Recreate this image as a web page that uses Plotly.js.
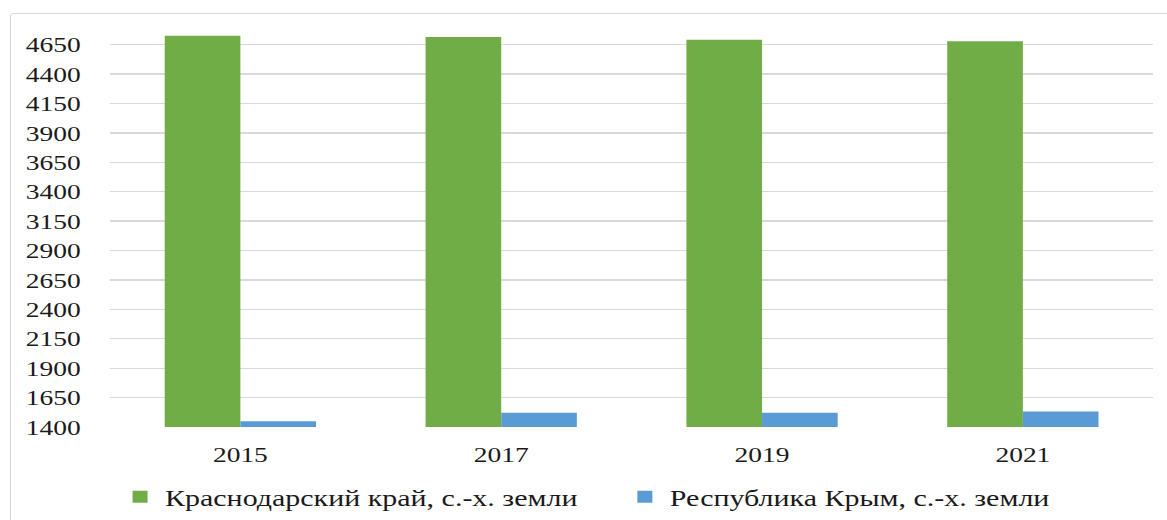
<!DOCTYPE html>
<html>
<head>
<meta charset="utf-8">
<script src="https://cdn.plot.ly/plotly-3.0.1.min.js"></script>
<style>
  html, body { margin: 0; padding: 0; background: #fff; overflow: hidden; }
  #wrap { position: relative; width: 1167px; height: 520px; overflow: hidden; }
  #frame { position: absolute; left: 10px; top: 13px; width: 1180px; height: 540px;
           border: 1.5px solid #d9d9d9; border-radius: 3px; box-sizing: border-box; }
  #chart { position: absolute; left: 0; top: 0; width: 934px; height: 520px;
           transform: scaleX(1.2495); transform-origin: 0 0; }
</style>
</head>
<body>
<div id="wrap">
  <div id="frame"></div>
  <div id="chart"></div>
</div>
<script>
const years = ['2015', '2017', '2019', '2021'];
const krasnodar = [4726, 4715, 4692, 4678];
const crimea = [1448, 1521, 1521, 1531];
const seriesNames = ['Краснодарский край, с.-х. земли', 'Республика Крым, с.-х. земли'];
const yTicks = [1400, 1650, 1900, 2150, 2400, 2650, 2900, 3150, 3400, 3650, 3900, 4150, 4400, 4650];

const font = { family: '"Liberation Serif", "Times New Roman", serif', size: 22, color: '#1a1a1a' };
const legendFont = Object.assign({}, font, { size: 24 });

const data = [
  { type: 'bar', x: years, y: krasnodar, name: seriesNames[0],
    marker: { color: '#70ad47' }, hoverinfo: 'y' },
  { type: 'bar', x: years, y: crimea, name: seriesNames[1],
    marker: { color: '#5b9bd5' }, hoverinfo: 'y' }
];

const layout = {
  width: 934, height: 520,
  margin: { l: 88, r: 11, t: 27, b: 93, pad: 0 },
  paper_bgcolor: 'rgba(0,0,0,0)', plot_bgcolor: 'rgba(0,0,0,0)',
  font: font,
  barmode: 'group', bargap: 0.42, bargroupgap: 0,
  showlegend: true,
  legend: { orientation: 'h', xref: 'container', yref: 'container',
            x: 0.0986, xanchor: 'left', y: 0.044, yanchor: 'middle',
            font: legendFont, itemwidth: 30, traceorder: 'normal',
            entrywidth: 359, entrywidthmode: 'pixels' },
  xaxis: { type: 'category', showgrid: false, zeroline: false, showline: false,
           ticks: 'outside', ticklen: 8, tickcolor: 'rgba(0,0,0,0)',
           tickfont: font, fixedrange: true },
  yaxis: { range: [1400, 4800], tickvals: yTicks, ticktext: yTicks.map(String),
           showgrid: true, gridcolor: '#d9d9d9', gridwidth: 1.3,
           zeroline: false, showline: false,
           ticks: 'outside', ticklen: 18, tickcolor: 'rgba(0,0,0,0)',
           tickfont: font, fixedrange: true }
};

Plotly.newPlot('chart', data, layout, { displayModeBar: false, staticPlot: true });
</script>
</body>
</html>
